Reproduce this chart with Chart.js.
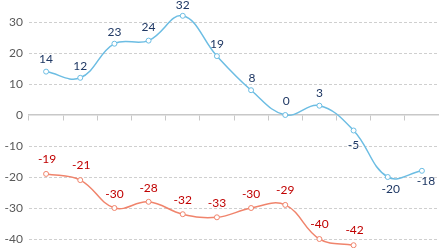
<!DOCTYPE html>
<html>
<head>
<meta charset="utf-8">
<script src="https://cdn.jsdelivr.net/npm/chart.js@4"></script>
<style>
  html, body { margin: 0; padding: 0; background: #fff; }
  #wrap { width: 439px; height: 248px; position: relative; }
</style>
</head>
<body>
<div id="wrap"><canvas id="chart"></canvas></div>
<script>
// categories (no labels shown on the axis)
const categories = ['1', '2', '3', '4', '5', '6', '7', '8', '9', '10', '11', '12'];
const blueValues = [14, 12, 23, 24, 32, 19, 8, 0, 3, -5, -20, -18];
const redValues = [-19, -21, -30, -28, -32, -33, -30, -29, -40, -42];
const yTicks = [30, 20, 10, 0, -10, -20, -30, -40];

// label placement per point: dx, dy from the point
const blueLabelPos = [[0, -12], [0, -12], [0, -12], [0, -13], [0, -11], [0, -12], [1, -12], [1, -14], [0, -13], [0, 15], [3, 12], [4, 10]];
const redLabelPos = [[1, -15], [1, -15], [0, -14], [0, -14], [0, -14], [0, -14], [0, -14], [0, -15], [0, -15], [1, -15]];

const labelPlugin = {
  id: 'pointLabels',
  afterDatasetsDraw(chart) {
    const ctx = chart.ctx;
    ctx.save();
    ctx.font = '12px Lato, "Open Sans", sans-serif';
    ctx.textAlign = 'center';
    ctx.textBaseline = 'middle';
    chart.data.datasets.forEach((ds, i) => {
      const meta = chart.getDatasetMeta(i);
      const pos = i === 0 ? blueLabelPos : redLabelPos;
      ctx.fillStyle = ds.labelColor;
      meta.data.forEach((pt, j) => {
        const off = pos[j] || [0, -12];
        ctx.fillText(String(ds.data[j]), pt.x + off[0], pt.y + off[1]);
      });
    });
    ctx.restore();
  }
};

new Chart(document.getElementById('chart'), {
  type: 'line',
  data: {
    labels: categories,
    datasets: [
      {
        data: blueValues,
        borderColor: '#6cbde3',
        borderWidth: 1.5,
        backgroundColor: '#fff',
        pointBorderColor: '#6cbde3',
        pointBackgroundColor: '#fff',
        pointRadius: 2.5,
        pointBorderWidth: 1,
        tension: 0.4,
        labelColor: '#1f3864',
        clip: false
      },
      {
        data: redValues,
        borderColor: '#f0846c',
        borderWidth: 1.5,
        backgroundColor: '#fff',
        pointBorderColor: '#f0846c',
        pointBackgroundColor: '#fff',
        pointRadius: 2.5,
        pointBorderWidth: 1,
        tension: 0.4,
        labelColor: '#c00000',
        clip: false
      }
    ]
  },
  options: {
    responsive: true,
    maintainAspectRatio: false,
    animation: false,
    layout: { padding: 0, autoPadding: false },
    plugins: { legend: { display: false }, tooltip: { enabled: false } },
    scales: {
      x: {
        position: { y: 0 },
        offset: true,
        afterFit: s => { s.height = 0; s.paddingLeft = 0; s.paddingRight = 0; },
        grid: {
          offset: true,
          drawOnChartArea: false,
          drawTicks: true,
          tickLength: 5,
          color: '#c8c8c8'
        },
        border: { color: '#c8c8c8', width: 1.5 },
        ticks: { display: false }
      },
      y: {
        min: -42.9,
        max: 37.1,
        afterBuildTicks: s => { s.ticks = yTicks.map(v => ({ value: v })); },
        afterFit: s => { s.width = 29; s.paddingTop = 0; s.paddingBottom = 0; },
        grid: {
          drawTicks: false,
          color: c => (c.tick && c.tick.value === 0 ? 'rgba(0,0,0,0)' : '#cfcfcf'),
          lineWidth: 1
        },
        border: { display: false, dash: [3, 2] },
        ticks: {
          padding: 6,
          color: '#595959',
          font: { family: 'Lato, "Open Sans", sans-serif', size: 12 }
        }
      }
    }
  },
  plugins: [labelPlugin]
});
</script>
</body>
</html>
